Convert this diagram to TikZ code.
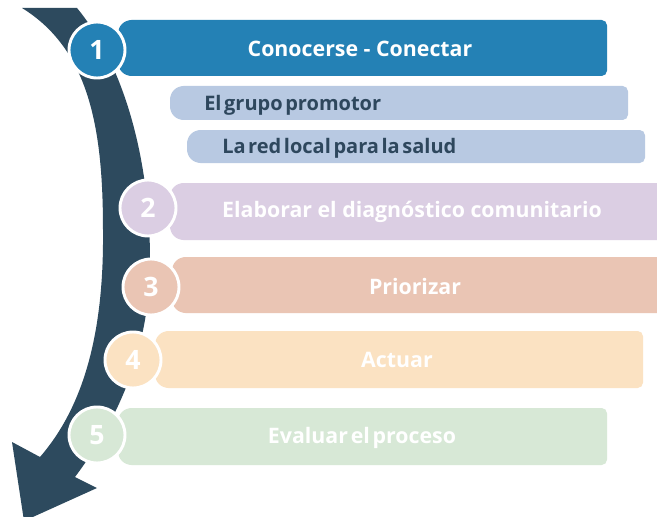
\documentclass[tikz,border=0pt]{standalone}
\usepackage{fontspec}
\setmainfont{Open Sans}
\newfontfamily\tightfont[WordSpace=0.5]{Open Sans}
\usetikzlibrary{calc}
\definecolor{arrowblue}{HTML}{2D4A5E}
\definecolor{stepblue}{HTML}{2481B5}
\definecolor{subblue}{HTML}{B8C9E2}
\definecolor{subtext}{HTML}{2E475D}
\definecolor{steplila}{HTML}{DBCEE3}
\definecolor{stepsalmon}{HTML}{EAC5B4}
\definecolor{steppeach}{HTML}{FBE2C2}
\definecolor{stepgreen}{HTML}{D7E8D6}

\begin{document}
\begin{tikzpicture}[x=0.75pt,y=-0.75pt,
	numcircle/.style={circle,draw=white,line width=2.2pt,minimum size=42pt,inner sep=0pt,text=white,font=\bfseries\fontsize{20}{20}\selectfont},
	steptext/.style={text=white,inner sep=0pt,font=\bfseries\fontsize{16}{16}\selectfont},
	subtextnode/.style={text=subtext,inner sep=0pt,font=\tightfont\bfseries\fontsize{15}{15}\selectfont}]
	\newcommand{\mybar}[5]{
		\fill[#5,rounded corners=4pt] (#1,#2+8) -- (#1+8,#2) -- (#3,#2) -- (#3,#4) -- (#1+8,#4) -- (#1,#4-8) -- cycle;
	}
	%Page
	\fill[white] (0,0) rectangle (657,517);
	\useasboundingbox (0,0) rectangle (657,517);
	%The big curved arrow
	\fill[arrowblue] (22,8) -- (77,8) .. controls (120,60) and (150,150) .. (150,260)
		.. controls (150,360) and (110,430) .. (75,477) -- (97,488) -- (24,521) -- (12,442) -- (40,457)
		.. controls (85,405) and (104,330) .. (103,230) .. controls (103,130) and (90,50) .. (22,8) -- cycle;
	%Bars
	\mybar{118}{20}{607}{76}{stepblue}
	\mybar{170}{86}{628}{120}{subblue}
	\mybar{187}{130}{645}{163}{subblue}
	\mybar{170}{183}{664}{240}{steplila}
	\mybar{172}{257}{664}{313}{stepsalmon}
	\mybar{155}{331}{643}{388}{steppeach}
	\mybar{118}{408}{607}{465}{stepgreen}
	%Texts in the bars
	\coordinate (w1) at (360,49);
	\coordinate (ws1) at (204,105);
	\coordinate (ws2) at (222,148);
	\coordinate (w2) at (412,212);
	\coordinate (w3) at (415,286);
	\coordinate (w4) at (397,360);
	\coordinate (w5) at (362,438);
	\node (t1) [steptext] at (w1) {Conocerse - Conectar};
	\node (s1) [subtextnode,anchor=west] at (ws1) {El grupo promotor};
	\node (s2) [subtextnode,anchor=west] at (ws2) {La red local para la salud};
	\node (t2) [steptext] at (w2) {Elaborar el diagnóstico comunitario};
	\node (t3) [steptext] at (w3) {Priorizar};
	\node (t4) [steptext] at (w4) {Actuar};
	\node (t5) [steptext,font=\tightfont\bfseries\fontsize{16}{16}\selectfont] at (w5) {Evaluar el proceso};
	%Numbers
	\coordinate (c1) at (97,50);
	\coordinate (c2) at (148,208);
	\coordinate (c3) at (151,287);
	\coordinate (c4) at (133,360);
	\coordinate (c5) at (97,435);
	\node (n1) [numcircle,fill=stepblue] at (c1) {1};
	\node (n2) [numcircle,fill=steplila] at (c2) {2};
	\node (n3) [numcircle,fill=stepsalmon] at (c3) {3};
	\node (n4) [numcircle,fill=steppeach] at (c4) {4};
	\node (n5) [numcircle,fill=stepgreen] at (c5) {5};
\end{tikzpicture}
\end{document}
